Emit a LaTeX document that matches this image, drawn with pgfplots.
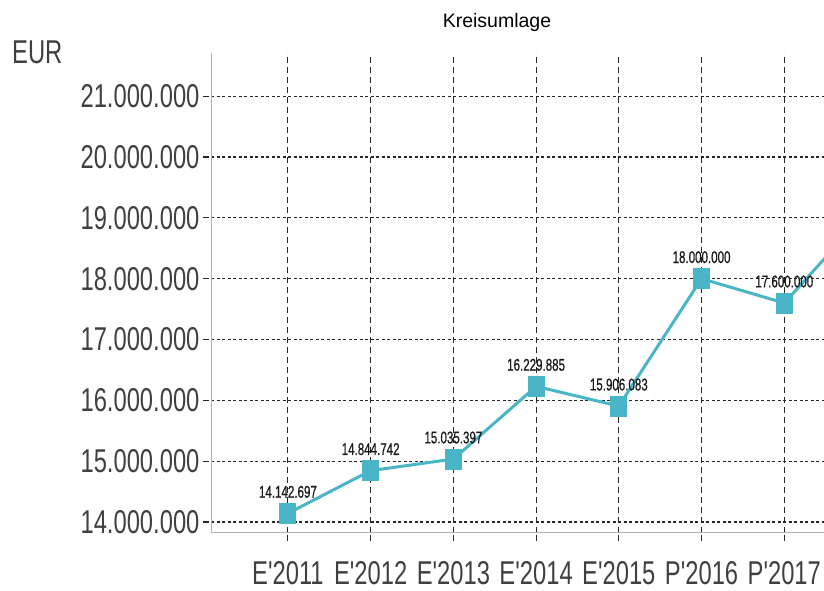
\documentclass[border=0pt]{standalone}
\usepackage{fontspec}
\setmainfont{Liberation Sans}
\newfontfamily\condfont[FakeStretch=0.72]{Liberation Sans}
\newfontfamily\labfont[FakeStretch=0.68,FakeBold=0.6]{Liberation Sans}
\usepackage{pgfplots}
\usepackage{pgfplotstable}
\pgfplotsset{compat=1.18}
\definecolor{tealc}{RGB}{75,181,200}
\pgfplotstableread{
x y lab
0 14142697 14.142.697
1 14844742 14.844.742
2 15035397 15.035.397
3 16229885 16.229.885
4 15906083 15.906.083
5 18000000 18.000.000
6 17600000 17.600.000
}\datatab
\begin{document}
\begin{tikzpicture}
\useasboundingbox (0,0) rectangle (824pt,591pt);
\begin{axis}[
  at={(211pt,58pt)}, anchor=south west,
  scale only axis, width=613pt, height=480pt,
  xmin=-0.93, xmax=6.48,
  ymin=13820000, ymax=21710000,
  axis x line=bottom, axis y line=left,
  axis line style={-, gray!60, line width=1pt},
  xtick={0,...,6},
  xticklabels={E'2011,E'2012,E'2013,E'2014,E'2015,P'2016,P'2017},
  ytick={14000000,15000000,16000000,17000000,18000000,19000000,20000000,21000000},
  yticklabels={14.000.000,15.000.000,16.000.000,17.000.000,18.000.000,19.000.000,20.000.000,21.000.000},
  scaled y ticks=false,
  tick align=outside,
  major tick length=8pt,
  tick style={black!85, dash pattern=on 6pt off 4pt, line width=1.1pt},
  grid=major,
  x grid style={black!85, dash pattern=on 6pt off 4pt, line width=1.1pt},
  y grid style={black!85, dash pattern=on 3.3pt off 2.2pt, line width=1.2pt},
  ticklabel style={font=\condfont\fontsize{33}{33}\selectfont, text=black!75},
  xticklabel style={yshift=-17pt},
  point meta=explicit symbolic,
  clip=true,
]
\addplot[tealc, line width=3pt, forget plot] coordinates {(6,17600000) (7,19100000)};
\addplot[tealc, line width=3pt, mark=square*, mark size=9pt,
  mark options={solid, fill=tealc, draw=tealc, xscale=0.78},
  nodes near coords,
  every node near coord/.append style={anchor=south, yshift=14pt, inner sep=0pt,
    font=\labfont\fontsize{17}{17}\selectfont, text=black!90}]
  table[x=x, y=y, meta=lab] {\datatab};
\end{axis}
\node[anchor=center, font=\fontsize{19.5}{20}\selectfont] at (497pt,569pt) {Kreisumlage};
\node[anchor=west, inner sep=0pt, font=\condfont\fontsize{33}{33}\selectfont, text=black!75] at (12pt,539pt) {EUR};
\end{tikzpicture}
\end{document}
